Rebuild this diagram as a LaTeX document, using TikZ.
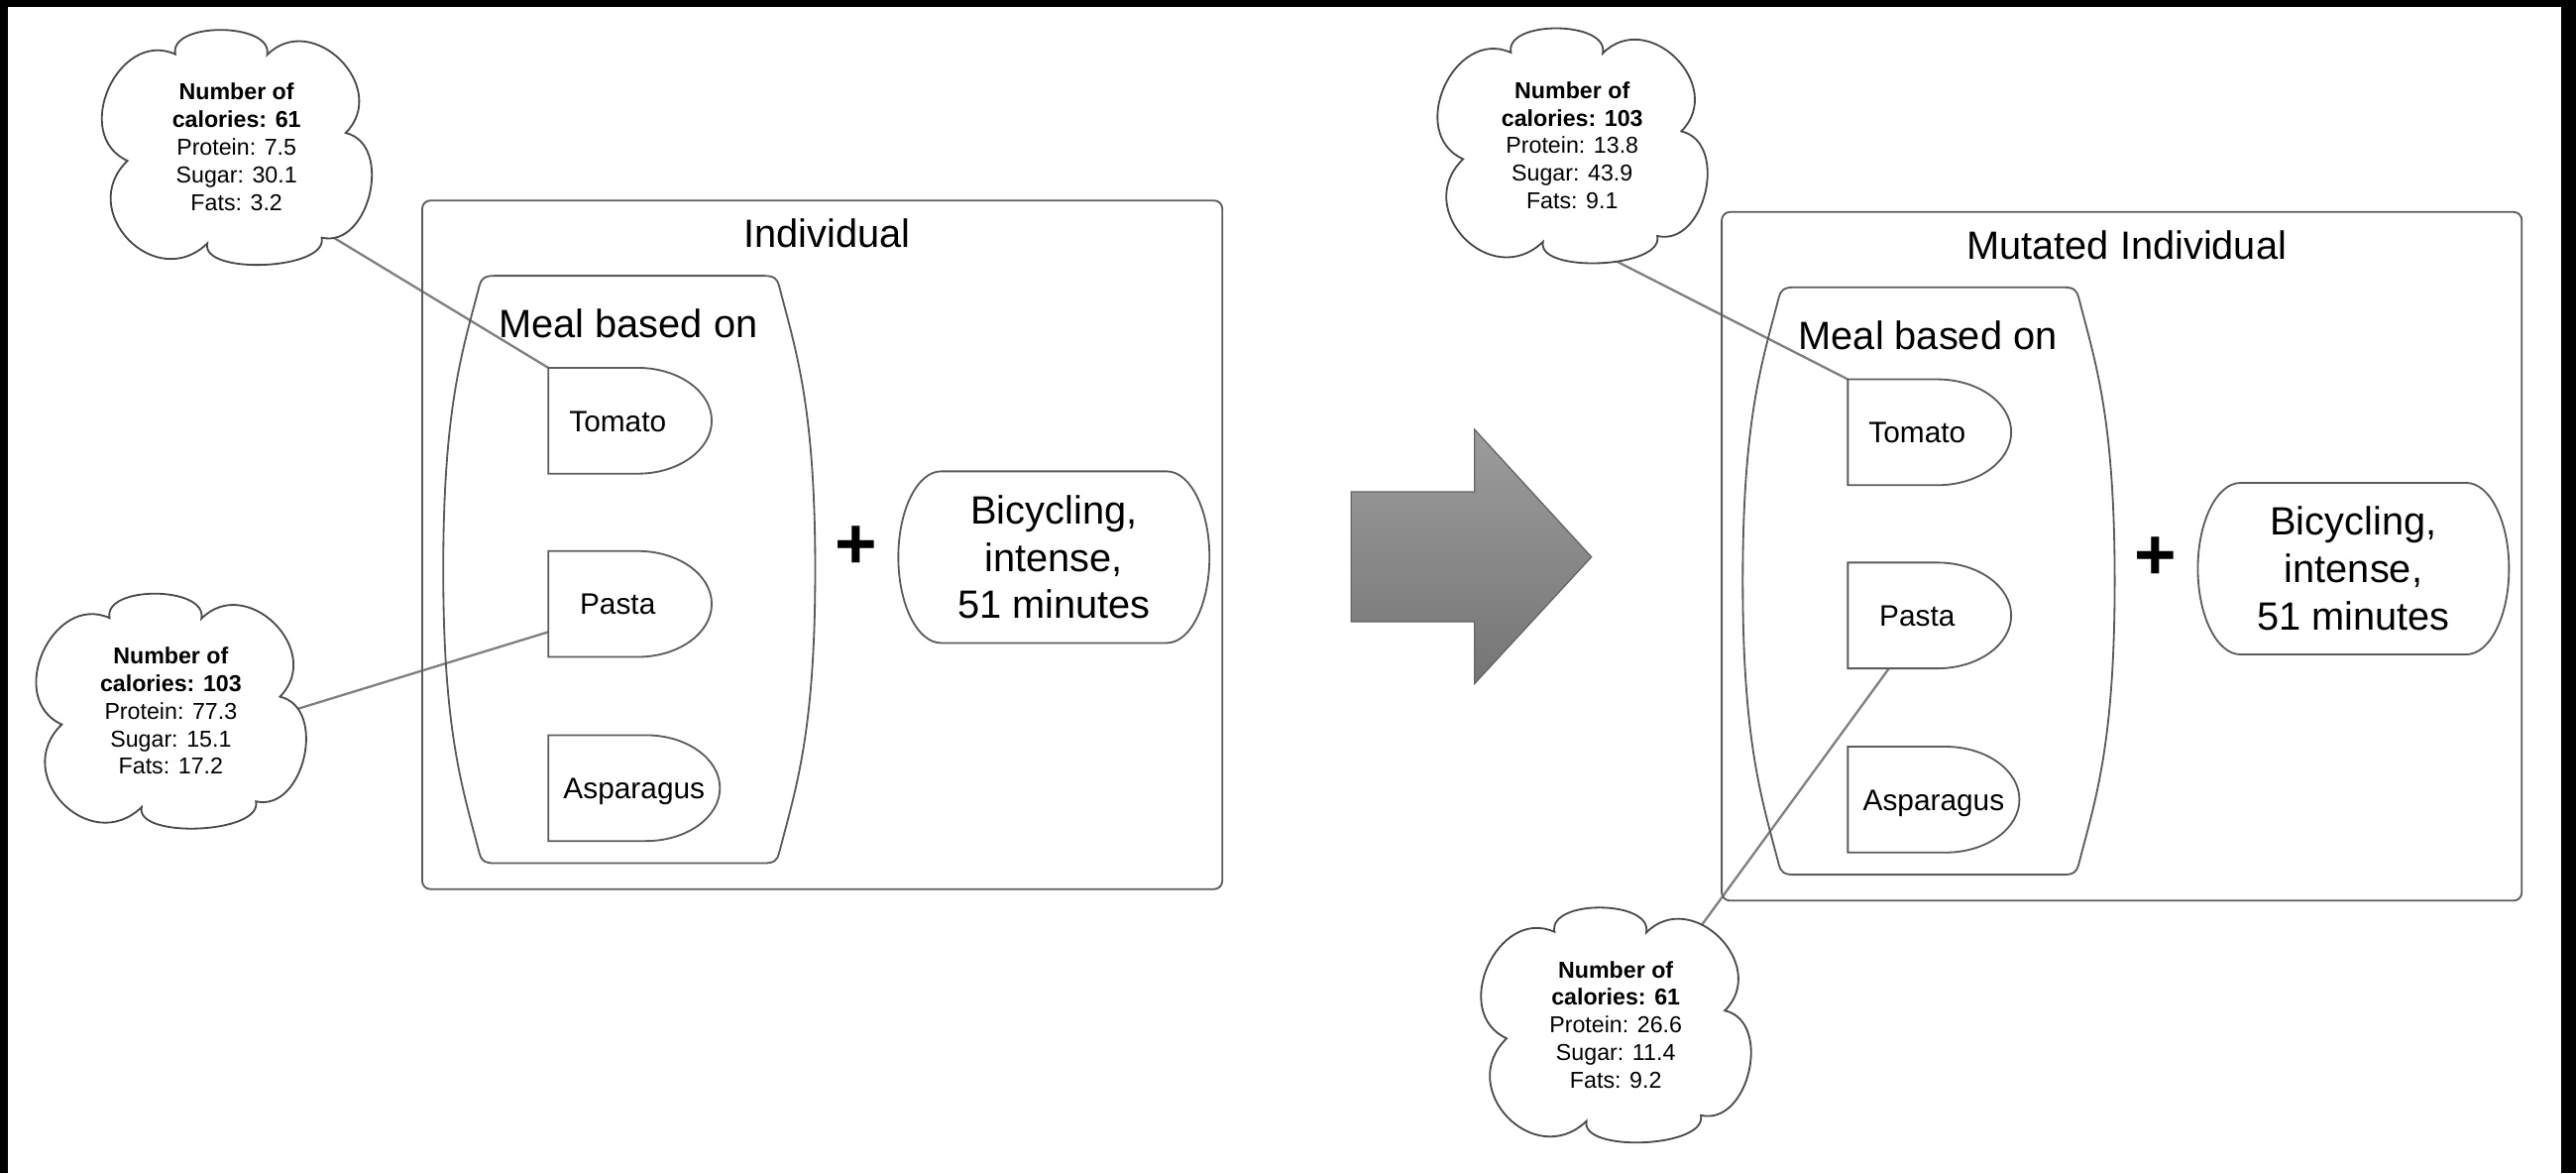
\documentclass[tikz,border=0pt]{standalone}
\usepackage{fontspec}
\setmainfont{Liberation Sans}
\usetikzlibrary{calc}
\pgfdeclarelayer{page}
\pgfdeclarelayer{wires}
\pgfsetlayers{page,wires,main}
\definecolor{outlc}{HTML}{5C5C5C}
\definecolor{wirec}{HTML}{808080}
\definecolor{cloudc}{HTML}{4A4A4A}
\definecolor{arrtop}{HTML}{9C9C9C}
\definecolor{arrbot}{HTML}{757575}
\definecolor{arredge}{HTML}{666666}
\tikzset{
  outl/.style={draw=outlc, line width=1.1pt},
  wire/.style={draw=wirec, line width=1.4pt},
  cloudline/.style={draw=cloudc, line width=1.1pt, fill=white},
  titletext/.style={inner sep=0pt, font=\fontsize{24}{28.8}\selectfont},
  outerbox/.style={outl, rounded corners=5pt, minimum width=487pt, minimum height=419pt, inner sep=0pt},
  mealbox/.style={inner sep=0pt, minimum width=226pt, minimum height=357pt},
  food/.style={inner sep=0pt, minimum height=64pt, font=\fontsize{18}{21.6}\selectfont, text height=13pt, text depth=0pt},
  actbox/.style={inner sep=0pt, minimum width=189pt, minimum height=104pt, align=center, font=\fontsize{24}{28.8}\selectfont},
  plustext/.style={inner sep=0pt, font=\fontsize{44}{50}\selectfont\bfseries},
  cloudtext/.style={inner sep=0pt, align=center, font=\fontsize{14}{16.8}\selectfont},
}
% D-shaped food item outline
\newcommand\doutline[1]{\draw[outl] (#1.north west) -- ($(#1.north east)+(-45,0)$)
  .. controls ($(#1.north east)+(-20.1,0)$) and ($(#1.east)+(0,-17.7)$) .. (#1.east)
  .. controls ($(#1.east)+(0,17.7)$) and ($(#1.south east)+(-20.1,0)$) .. ($(#1.south east)+(-45,0)$)
  -- (#1.south west) -- cycle;}
% terminator outline
\newcommand\toutline[1]{\draw[outl] ($(#1.north west)+(26,0)$) -- ($(#1.north east)+(-26,0)$)
  .. controls ($(#1.north east)+(-11.6,0)$) and ($(#1.east)+(0,-28.7)$) .. (#1.east)
  .. controls ($(#1.east)+(0,28.7)$) and ($(#1.south east)+(-11.6,0)$) .. ($(#1.south east)+(-26,0)$)
  -- ($(#1.south west)+(26,0)$)
  .. controls ($(#1.south west)+(11.6,0)$) and ($(#1.west)+(0,28.7)$) .. (#1.west)
  .. controls ($(#1.west)+(0,-28.7)$) and ($(#1.north west)+(11.6,0)$) .. ($(#1.north west)+(26,0)$) -- cycle;}
% barrel-shaped meal container outline
\newcommand\mealoutline[1]{\draw[outl]
  ($(#1.north west)+(31,0)$) -- ($(#1.north east)+(-31,0)$)
  .. controls ($(#1.north east)+(-25,0)$) and ($(#1.north east)+(-23,2)$) .. ($(#1.north east)+(-22,6)$)
  .. controls ($(#1.north east)+(-12,45)$) and ($(#1.east)+(0,-100)$) .. (#1.east)
  .. controls ($(#1.east)+(0,100)$) and ($(#1.south east)+(-12,-45)$) .. ($(#1.south east)+(-22,-6)$)
  .. controls ($(#1.south east)+(-23,-2)$) and ($(#1.south east)+(-25,0)$) .. ($(#1.south east)+(-31,0)$)
  -- ($(#1.south west)+(31,0)$)
  .. controls ($(#1.south west)+(25,0)$) and ($(#1.south west)+(23,-2)$) .. ($(#1.south west)+(22,-6)$)
  .. controls ($(#1.south west)+(12,-45)$) and ($(#1.west)+(0,100)$) .. (#1.west)
  .. controls ($(#1.west)+(0,-100)$) and ($(#1.north west)+(12,45)$) .. ($(#1.north west)+(22,6)$)
  .. controls ($(#1.north west)+(23,2)$) and ($(#1.north west)+(25,0)$) .. ($(#1.north west)+(31,0)$) -- cycle;}
% cloud with text: name, x, y, text
\newcommand\cloudnode[4]{%
  \begin{scope}[shift={(#2,#3)}]
  \path[cloudline] (-37.3,-56.5) .. controls (-41.3,-76.5) and (22.6,-76.1) .. (18.6,-56.1)
   .. controls (46.1,-83.75) and (93.9,-36.25) .. (66.4,-8.6)
   .. controls (95.7,-1.9) and (81.05,61.8) .. (51.8,55.1)
   .. controls (56,75) and (-22,78) .. (-17.8,58.6)
   .. controls (-49.4,89.1) and (-98.0,38.8) .. (-66.4,8.3)
   .. controls (-101.1,-7.3) and (-72.0,-72.1) .. (-37.3,-56.5) -- cycle;
  \end{scope}
  \node[cloudtext] (#1) at (#2,#3) {#4};}
% one individual: prefix, title, dx, dy
\newcommand\individual[4]{%
  \node[outerbox] (#1box) at (500.5+#3,331.5+#4) {};
  \node[titletext] (#1title) at (503.5+#3,142+#4) {#2};
  \node[mealbox] (#1meal) at (383+#3,346.5+#4) {};
  \mealoutline{#1meal}
  \node[titletext] (#1mealtitle) at (382.5+#3,197+#4) {Meal based on};
  \node[food, minimum width=99pt] (#1tom) at (383.5+#3,256+#4) {\hspace*{-15pt}Tomato};
  \doutline{#1tom}
  \node[food, minimum width=99pt] (#1pas) at (383.5+#3,367.5+#4) {\hspace*{-15pt}Pasta};
  \doutline{#1pas}
  \node[food, minimum width=104pt] (#1asp) at (386+#3,479.5+#4) {Asparagus};
  \doutline{#1asp}
  \node[plustext] (#1plus) at (521+#3,333+#4) {+};
  \node[actbox] (#1bike) at (641.5+#3,339+#4) {Bicycling,\\intense,\\51 minutes};
  \toutline{#1bike}}
\begin{document}
\begin{tikzpicture}[x=1pt, y=-1pt]
\begin{pgfonlayer}{page}
  \fill[black] (0,0) rectangle (1568,714);
  \fill[white] (4.8,4.2) rectangle (1559,714);
\end{pgfonlayer}
\useasboundingbox (0,0) rectangle (1568,714);

\individual{L}{Individual}{0}{0}
\individual{R}{Mutated Individual}{791}{7}

% transition arrow
\path[draw=arredge, line width=0.8pt, top color=arrtop, bottom color=arrbot]
  (822.5,299.2) -- (897.6,299.2) -- (897.6,261.4) -- (968.7,338.9)
  -- (897.6,415.9) -- (897.6,378.3) -- (822.5,378.3) -- cycle;

% clouds
\cloudnode{c1}{144}{89.5}{\textbf{Number of}\\\textbf{calories: 61}\\Protein: 7.5\\Sugar: 30.1\\Fats: 3.2}
\cloudnode{c2}{104}{432.5}{\textbf{Number of}\\\textbf{calories: 103}\\Protein: 77.3\\Sugar: 15.1\\Fats: 17.2}
\cloudnode{c3}{957}{88.5}{\textbf{Number of}\\\textbf{calories: 103}\\Protein: 13.8\\Sugar: 43.9\\Fats: 9.1}
\cloudnode{c4}{983.5}{623.5}{\textbf{Number of}\\\textbf{calories: 61}\\Protein: 26.6\\Sugar: 11.4\\Fats: 9.2}

\coordinate (c1out) at ($(c1)+(43.4,45.6)$);
\coordinate (c2out) at ($(c2)+(67.1,1.9)$);
\coordinate (c3out) at ($(c3)+(7.6,60.6)$);
\coordinate (c4out) at ($(c4)+(41.7,-46.1)$);

\begin{pgfonlayer}{wires}
  \draw[wire] (c1out) -- (Ltom.north west);
  \draw[wire] (c2out) -- ($(Lpas.west)+(0,17)$);
  \draw[wire] (c3out) -- (Rtom.north west);
  \draw[wire] (c4out) -- ($(Rpas.south west)+(25,0)$);
\end{pgfonlayer}
\end{tikzpicture}
\end{document}
